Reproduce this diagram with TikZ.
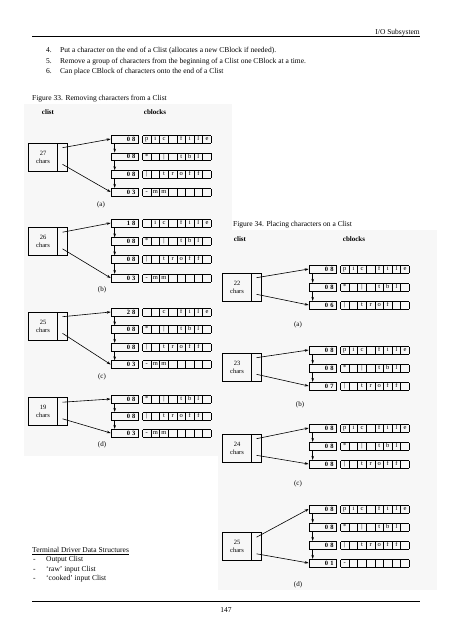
\documentclass[tikz,border=0pt]{standalone}
\usepackage{fontspec}
\setmainfont{Liberation Serif}
\usetikzlibrary{arrows.meta, positioning}

\setlength{\tabcolsep}{0pt}
\setlength{\arrayrulewidth}{0.6pt}
\newcommand{\cellbox}[1]{\makebox[8.6pt]{#1}}
\newcommand{\charrow}[8]{\begin{tabular}{|c|c|c|c|c|c|c|c|}\hline
  \cellbox{#1}&\cellbox{#2}&\cellbox{#3}&\cellbox{#4}&\cellbox{#5}&\cellbox{#6}&\cellbox{#7}&\cellbox{#8}\\\hline\end{tabular}}
\newcommand{\picfile}{\charrow{p}{i}{c}{}{f}{i}{l}{e}}
\newcommand{\tblrow}{\charrow{*}{}{|}{}{t}{b}{l}{}}
\newcommand{\troffrow}{\charrow{|}{}{t}{r}{o}{f}{f}{}}
\newcommand{\mmrow}{\charrow{-}{m}{m}{}{}{}{}{}}

\begin{document}
\begin{tikzpicture}[x=1pt, y=-1pt,
    txt/.style={inner sep=0pt, anchor=base west, font=\fontsize{7.5}{9}\selectfont},
    colhead/.style={inner sep=0pt, font=\fontsize{7}{8}\selectfont\bfseries},
    sublabel/.style={inner sep=0pt, font=\fontsize{7}{8}\selectfont},
    countbox/.style={draw, line width=0.6pt, minimum height=7.6pt, text width=22pt, align=right, inner xsep=2.5pt, inner ysep=0pt, font=\fontsize{6.5}{7}\selectfont\bfseries},
    charcells/.style={inner sep=0pt, font=\fontsize{6.5}{7}\selectfont},
    clistbox/.style={draw, line width=0.6pt, minimum width=29.5pt, minimum height=28pt, align=center, inner sep=1pt, font=\fontsize{6.5}{8}\selectfont},
    ptrbox/.style={draw, line width=0.6pt, minimum width=9.5pt, minimum height=28pt, inner sep=0pt},
    arrow/.style={-{Stealth[length=4pt, width=2.6pt]}, line width=0.6pt},
    scan/.style={fill=black!3, draw=none},
    ]
    \useasboundingbox[fill=white] (0,0) rectangle (452,640);
    \fill[scan] (24,104) rectangle (232,456);
    \fill[scan] (218,230) rectangle (437,590);

    % Page text
    \node[txt, anchor=base east] (title) at (420,34.5) {I/O Subsystem};
    \draw[line width=0.9pt] (32,36.5) -- (420,36.5);
    \node[txt] (n4) at (46,52.5) {4.};
    \node[txt] (t4) at (60,52.5) {Put a character on the end of a Clist (allocates a new CBlock if needed).};
    \node[txt] (n5) at (46,63.5) {5.};
    \node[txt] (t5) at (60,63.5) {Remove a group of characters from the beginning of a Clist one CBlock at a time.};
    \node[txt] (n6) at (46,73.5) {6.};
    \node[txt] (t6) at (60,73.5) {Can place CBlock of characters onto the end of a Clist};
    \node[txt] (fig33) at (32,100.5) {Figure 33. Removing characters from a Clist};
    \node[txt] (fig34) at (233,226.5) {Figure 34. Placing characters on a Clist};

    % Figure 33
    \node[colhead] (rh1) at (48,112) {clist};
    \node[colhead] (rh2) at (155,112) {cblocks};

    \node[clistbox] (ral) at (43,157) {27\\chars}; \node[ptrbox, right=-0.6pt of ral] (rap) {};
    \node[countbox] (ra1) at (124.5,139) {0 8}; \node[charcells, right=4pt of ra1] (ra1c) {\picfile};
    \node[countbox] (ra2) at (124.5,156.7) {0 8}; \node[charcells, right=4pt of ra2] (ra2c) {\tblrow};
    \node[countbox] (ra3) at (124.5,174.4) {0 8}; \node[charcells, right=4pt of ra3] (ra3c) {\troffrow};
    \node[countbox] (ra4) at (124.5,192) {0 3}; \node[charcells, right=4pt of ra4] (ra4c) {\mmrow};
    \node[sublabel] (rat) at (101,205) {(a)};

    \node[clistbox] (rbl) at (43,241.5) {26\\chars}; \node[ptrbox, right=-0.6pt of rbl] (rbp) {};
    \node[countbox] (rb1) at (124.5,223) {1 8}; \node[charcells, right=4pt of rb1] (rb1c) {\charrow{}{i}{c}{}{f}{i}{l}{e}};
    \node[countbox] (rb2) at (124.5,241.5) {0 8}; \node[charcells, right=4pt of rb2] (rb2c) {\tblrow};
    \node[countbox] (rb3) at (124.5,259.5) {0 8}; \node[charcells, right=4pt of rb3] (rb3c) {\troffrow};
    \node[countbox] (rb4) at (124.5,278) {0 3}; \node[charcells, right=4pt of rb4] (rb4c) {\mmrow};
    \node[sublabel] (rbt) at (102,290) {(b)};

    \node[clistbox] (rcl) at (43,326) {25\\chars}; \node[ptrbox, right=-0.6pt of rcl] (rcp) {};
    \node[countbox] (rc1) at (124.5,312) {2 8}; \node[charcells, right=4pt of rc1] (rc1c) {\charrow{}{}{c}{}{f}{i}{l}{e}};
    \node[countbox] (rc2) at (124.5,329.5) {0 8}; \node[charcells, right=4pt of rc2] (rc2c) {\tblrow};
    \node[countbox] (rc3) at (124.5,347) {0 8}; \node[charcells, right=4pt of rc3] (rc3c) {\troffrow};
    \node[countbox] (rc4) at (124.5,364.5) {0 3}; \node[charcells, right=4pt of rc4] (rc4c) {\mmrow};
    \node[sublabel] (rct) at (102,377) {(c)};

    \node[clistbox] (rdl) at (43,411.5) {19\\chars}; \node[ptrbox, right=-0.6pt of rdl] (rdp) {};
    \node[countbox] (rd1) at (124.5,399) {0 8}; \node[charcells, right=4pt of rd1] (rd1c) {\tblrow};
    \node[countbox] (rd2) at (124.5,416) {0 8}; \node[charcells, right=4pt of rd2] (rd2c) {\troffrow};
    \node[countbox] (rd3) at (124.5,433) {0 3}; \node[charcells, right=4pt of rd3] (rd3c) {\mmrow};
    \node[sublabel] (rdt) at (102,445) {(d)};

    % Figure 34
    \node[colhead] (ph1) at (240,239) {clist};
    \node[colhead] (ph2) at (354,239) {cblocks};

    \node[clistbox] (pal) at (237,287) {22\\chars}; \node[ptrbox, right=-0.6pt of pal] (pap) {};
    \node[countbox] (pa1) at (322.5,269) {0 8}; \node[charcells, right=4pt of pa1] (pa1c) {\picfile};
    \node[countbox] (pa2) at (322.5,287) {0 8}; \node[charcells, right=4pt of pa2] (pa2c) {\tblrow};
    \node[countbox] (pa3) at (322.5,305) {0 6}; \node[charcells, right=4pt of pa3] (pa3c) {\charrow{|}{}{t}{r}{o}{f}{}{}};
    \node[sublabel] (pat) at (298,325) {(a)};

    \node[clistbox] (pbl) at (237,367) {23\\chars}; \node[ptrbox, right=-0.6pt of pbl] (pbp) {};
    \node[countbox] (pb1) at (322.5,350) {0 8}; \node[charcells, right=4pt of pb1] (pb1c) {\picfile};
    \node[countbox] (pb2) at (322.5,368) {0 8}; \node[charcells, right=4pt of pb2] (pb2c) {\tblrow};
    \node[countbox] (pb3) at (322.5,386) {0 7}; \node[charcells, right=4pt of pb3] (pb3c) {\troffrow};
    \node[sublabel] (pbt) at (300,405) {(b)};

    \node[clistbox] (pcl) at (237,448) {24\\chars}; \node[ptrbox, right=-0.6pt of pcl] (pcp) {};
    \node[countbox] (pc1) at (322.5,428) {0 8}; \node[charcells, right=4pt of pc1] (pc1c) {\picfile};
    \node[countbox] (pc2) at (322.5,446) {0 8}; \node[charcells, right=4pt of pc2] (pc2c) {\tblrow};
    \node[countbox] (pc3) at (322.5,464) {0 8}; \node[charcells, right=4pt of pc3] (pc3c) {\troffrow};
    \node[sublabel] (pct) at (298,484) {(c)};

    \node[clistbox] (pdl) at (237,546.5) {25\\chars}; \node[ptrbox, right=-0.6pt of pdl] (pdp) {};
    \node[countbox] (pd1) at (322.5,509) {0 8}; \node[charcells, right=4pt of pd1] (pd1c) {\picfile};
    \node[countbox] (pd2) at (322.5,527) {0 8}; \node[charcells, right=4pt of pd2] (pd2c) {\tblrow};
    \node[countbox] (pd3) at (322.5,545) {0 8}; \node[charcells, right=4pt of pd3] (pd3c) {\troffrow};
    \node[countbox] (pd4) at (322.5,563) {0 1}; \node[charcells, right=4pt of pd4] (pd4c) {\charrow{-}{}{}{}{}{}{}{}};
    \node[sublabel] (pdt) at (298,585) {(d)};

    % Edges
    \draw[arrow] ([yshift=-5pt]rap.north) -- (ra1.west);
    \draw[arrow] ([yshift=7pt]rap.south) -- (ra4.west);
    \draw[arrow] ([xshift=4pt]ra1.south west) -- ([xshift=4pt]ra2.north west);
    \draw[arrow] ([xshift=4pt]ra2.south west) -- ([xshift=4pt]ra3.north west);
    \draw[arrow] ([xshift=4pt]ra3.south west) -- ([xshift=4pt]ra4.north west);

    \draw[arrow] ([yshift=-5pt]rbp.north) -- (rb1.west);
    \draw[arrow] ([yshift=7pt]rbp.south) -- (rb4.west);
    \draw[arrow] ([xshift=4pt]rb1.south west) -- ([xshift=4pt]rb2.north west);
    \draw[arrow] ([xshift=4pt]rb2.south west) -- ([xshift=4pt]rb3.north west);
    \draw[arrow] ([xshift=4pt]rb3.south west) -- ([xshift=4pt]rb4.north west);

    \draw[arrow] ([yshift=-5pt]rcp.north) -- (rc1.west);
    \draw[arrow] ([yshift=7pt]rcp.south) -- (rc4.west);
    \draw[arrow] ([xshift=4pt]rc1.south west) -- ([xshift=4pt]rc2.north west);
    \draw[arrow] ([xshift=4pt]rc2.south west) -- ([xshift=4pt]rc3.north west);
    \draw[arrow] ([xshift=4pt]rc3.south west) -- ([xshift=4pt]rc4.north west);

    \draw[arrow] ([yshift=-5pt]rdp.north) -- (rd1.west);
    \draw[arrow] ([yshift=7pt]rdp.south) -- (rd3.west);
    \draw[arrow] ([xshift=4pt]rd1.south west) -- ([xshift=4pt]rd2.north west);
    \draw[arrow] ([xshift=4pt]rd2.south west) -- ([xshift=4pt]rd3.north west);

    \draw[arrow] ([yshift=-5pt]pap.north) -- (pa1.west);
    \draw[arrow] ([yshift=7pt]pap.south) -- (pa3.west);
    \draw[arrow] ([xshift=4pt]pa1.south west) -- ([xshift=4pt]pa2.north west);
    \draw[arrow] ([xshift=4pt]pa2.south west) -- ([xshift=4pt]pa3.north west);

    \draw[arrow] ([yshift=-5pt]pbp.north) -- (pb1.west);
    \draw[arrow] ([yshift=7pt]pbp.south) -- (pb3.west);
    \draw[arrow] ([xshift=4pt]pb1.south west) -- ([xshift=4pt]pb2.north west);
    \draw[arrow] ([xshift=4pt]pb2.south west) -- ([xshift=4pt]pb3.north west);

    \draw[arrow] ([yshift=-5pt]pcp.north) -- (pc1.west);
    \draw[arrow] ([yshift=7pt]pcp.south) -- (pc3.west);
    \draw[arrow] ([xshift=4pt]pc1.south west) -- ([xshift=4pt]pc2.north west);
    \draw[arrow] ([xshift=4pt]pc2.south west) -- ([xshift=4pt]pc3.north west);

    \draw[arrow] ([yshift=-5pt]pdp.north) -- (pd1.west);
    \draw[arrow] ([yshift=7pt]pdp.south) -- (pd4.west);
    \draw[arrow] ([xshift=4pt]pd1.south west) -- ([xshift=4pt]pd2.north west);
    \draw[arrow] ([xshift=4pt]pd2.south west) -- ([xshift=4pt]pd3.north west);
    \draw[arrow] ([xshift=4pt]pd3.south west) -- ([xshift=4pt]pd4.north west);

    % Terminal driver list
    \node[txt] (term) at (32,552.5) {\underline{Terminal Driver Data Structures}};
    \node[txt] (d1) at (33,561.5) {-}; \node[txt] (l1) at (46,561.5) {Output Clist};
    \node[txt] (d2) at (33,571.5) {-}; \node[txt] (l2) at (46,571.5) {`raw' input Clist};
    \node[txt] (d3) at (33,580.5) {-}; \node[txt] (l3) at (46,580.5) {`cooked' input Clist};
    \draw[line width=0.9pt] (32,601.5) -- (420,601.5);
    \node[txt, anchor=base] (page) at (226,612.5) {147};
\end{tikzpicture}
\end{document}
